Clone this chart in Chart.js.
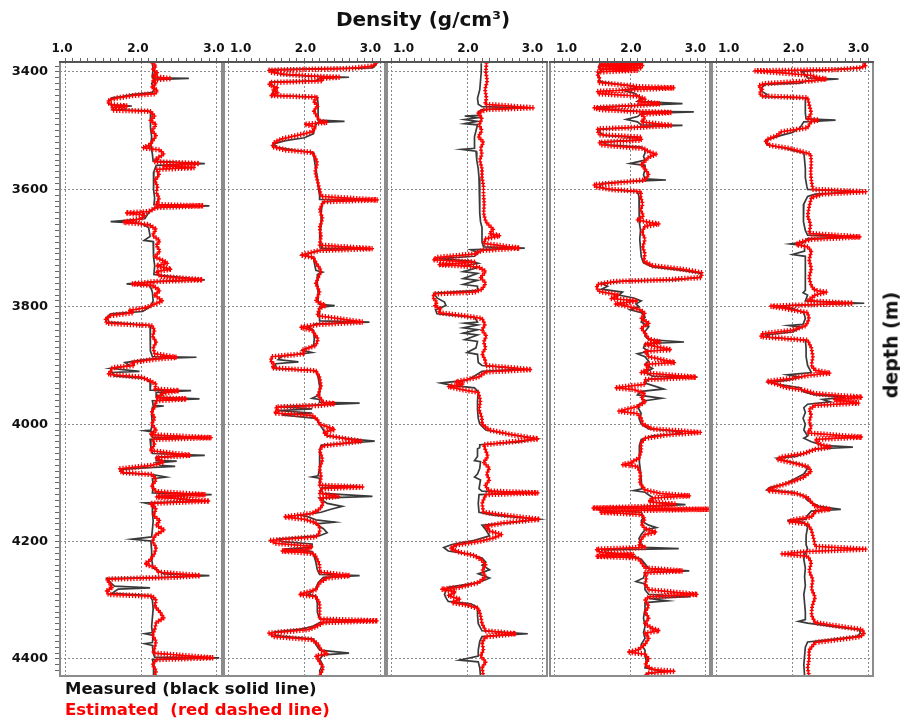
<!DOCTYPE html>
<html><head><meta charset="utf-8">
<script src="https://cdn.jsdelivr.net/npm/chart.js@4.4.1/dist/chart.umd.min.js"></script>
<style>
html,body{margin:0;padding:0;background:#fff;}
#wrap{position:relative;width:900px;height:728px;overflow:hidden;font-family:"DejaVu Sans",sans-serif;font-weight:bold;}
canvas{position:absolute;left:0;top:0;}
.t{position:absolute;white-space:pre;line-height:1;}
</style></head><body>
<div id="wrap">
<canvas id="c0" width="900" height="728"></canvas>
<canvas id="c1" width="900" height="728"></canvas>
<canvas id="c2" width="900" height="728"></canvas>
<canvas id="c3" width="900" height="728"></canvas>
<canvas id="c4" width="900" height="728"></canvas>
<div class="t" id="title" style="left:423px;top:9px;font-size:20px;color:#111;transform:translateX(-50%);">Density (g/cm³)</div>
<div class="t" id="ylab" style="left:891px;top:345px;font-size:19px;color:#111;transform:translate(-50%,-50%) rotate(-90deg);">depth (m)</div>
<div class="t" style="left:65px;top:681px;font-size:16.5px;color:#111;">Measured (black solid line)</div>
<div class="t" style="left:65px;top:702px;font-size:16.5px;color:#f00;">Estimated  (red dashed line)</div>
</div>
<script>
// ---- tick labels ----
const xTickLabels = ['1.0','2.0','3.0'];
const depthTickLabels = ['3400','3600','3800','4000','4200','4400'];
const densityMin = 0.934, densityMax = 3.066;
const depthMin = 3383, depthMax = 4429;

// ---- well 1 ----
const well1Measured = [[3385,2.15],[3395,2.16],[3405,2.15],[3410,2.15],[3411,2.63],[3413,2.17],[3420,2.14],[3428,2.18],[3435,2.15],[3438,1.9],[3442,1.75],[3444,1.62],[3448,1.58],[3452,1.57],[3456,1.6],[3458,1.88],[3460,1.65],[3464,1.62],[3466,2.1],[3470,2.13],[3480,2.12],[3495,2.13],[3510,2.14],[3525,2.13],[3540,2.15],[3552,2.16],[3556,2.84],[3559,2.2],[3570,2.17],[3585,2.16],[3600,2.17],[3615,2.18],[3626,2.17],[3628,2.9],[3631,2.18],[3640,2.1],[3650,2.05],[3655,1.6],[3658,2.0],[3665,2.1],[3680,2.12],[3687,2.04],[3689,2.16],[3700,2.17],[3715,2.16],[3730,2.18],[3745,2.17],[3754,2.84],[3757,2.2],[3761,1.81],[3764,2.12],[3775,2.15],[3790,2.16],[3800,2.12],[3808,2.02],[3812,1.6],[3818,1.55],[3826,1.58],[3832,2.12],[3845,2.13],[3860,2.12],[3875,2.12],[3885,2.15],[3886,2.73],[3889,2.1],[3895,1.79],[3900,1.85],[3905,1.6],[3910,1.98],[3912,1.62],[3918,1.65],[3922,2.05],[3930,2.13],[3942,2.12],[3943,2.66],[3946,2.2],[3954,2.2],[3957,2.77],[3960,2.15],[3968,2.16],[3969,2.3],[3971,2.15],[3985,2.14],[4000,2.15],[4010,2.13],[4011,2.05],[4013,2.15],[4022,2.15],[4023,2.9],[4026,2.12],[4040,2.13],[4050,2.15],[4053,2.84],[4056,2.2],[4062,2.2],[4063,2.47],[4066,2.2],[4070,2.25],[4072,2.45],[4074,2.1],[4077,1.74],[4083,1.76],[4086,2.15],[4090,2.33],[4093,2.15],[4105,2.16],[4117,2.15],[4120,2.93],[4123,2.2],[4131,2.8],[4134,2.05],[4137,2.15],[4150,2.15],[4165,2.16],[4180,2.15],[4192,2.14],[4196,1.88],[4199,2.13],[4215,2.14],[4230,2.14],[4245,2.16],[4255,2.3],[4258,2.9],[4261,2.3],[4263,1.55],[4270,1.6],[4276,1.65],[4279,2.12],[4281,1.7],[4288,1.62],[4292,2.12],[4300,2.15],[4315,2.16],[4330,2.15],[4345,2.14],[4355,2.15],[4357,2.05],[4360,2.16],[4372,2.15],[4374,2.05],[4377,2.15],[4390,2.16],[4397,2.18],[4398,3.03],[4401,2.15],[4410,2.17],[4420,2.16],[4429,2.17]];
const well1Estimated = [[3385,2.15],[3390,2.2],[3396,2.15],[3402,2.22],[3408,2.15],[3411,2.38],[3414,2.15],[3420,2.2],[3426,2.14],[3432,2.22],[3437,2.18],[3440,1.9],[3444,1.7],[3448,1.58],[3452,1.56],[3456,1.62],[3458,1.82],[3461,1.62],[3465,1.64],[3467,2.12],[3475,2.18],[3482,2.12],[3490,2.2],[3500,2.14],[3508,2.2],[3516,2.16],[3524,2.12],[3529,2.03],[3533,2.25],[3540,2.3],[3548,2.2],[3553,2.18],[3556,2.77],[3560,2.3],[3563,2.7],[3566,2.2],[3575,2.24],[3585,2.18],[3595,2.22],[3605,2.2],[3615,2.24],[3626,2.2],[3628,2.82],[3631,2.2],[3638,2.1],[3640,1.8],[3644,2.05],[3650,2.0],[3656,1.77],[3660,2.1],[3668,2.2],[3678,2.15],[3688,2.25],[3695,2.2],[3705,2.25],[3715,2.18],[3722,2.3],[3726,2.35],[3730,2.2],[3736,2.4],[3740,2.2],[3748,2.25],[3754,2.81],[3757,2.2],[3761,1.88],[3764,2.15],[3772,2.25],[3780,2.18],[3790,2.28],[3797,2.15],[3802,2.05],[3806,1.85],[3810,1.9],[3815,1.6],[3822,1.53],[3828,1.55],[3832,2.14],[3840,2.18],[3850,2.15],[3860,2.2],[3870,2.16],[3880,2.18],[3886,2.47],[3889,2.2],[3895,1.88],[3900,1.9],[3904,1.62],[3910,1.6],[3915,1.57],[3920,2.0],[3926,2.12],[3932,2.2],[3940,2.18],[3943,2.5],[3947,2.3],[3955,2.2],[3957,2.6],[3960,2.2],[3970,2.18],[3980,2.14],[3990,2.18],[4000,2.14],[4010,2.2],[4018,2.12],[4023,2.93],[4026,2.15],[4035,2.18],[4045,2.12],[4053,2.65],[4057,2.2],[4065,2.3],[4070,2.15],[4076,1.72],[4082,1.74],[4086,2.15],[4095,2.2],[4105,2.14],[4115,2.2],[4120,2.85],[4124,2.2],[4131,2.9],[4135,2.12],[4145,2.2],[4155,2.16],[4165,2.25],[4172,2.2],[4180,2.3],[4190,2.18],[4200,2.15],[4210,2.2],[4220,2.18],[4232,2.12],[4238,2.05],[4245,2.2],[4252,2.22],[4258,2.78],[4261,2.4],[4264,1.55],[4270,1.58],[4278,1.62],[4284,1.55],[4290,1.57],[4293,2.15],[4300,2.2],[4310,2.18],[4320,2.25],[4330,2.3],[4338,2.2],[4350,2.18],[4360,2.15],[4370,2.2],[4380,2.18],[4390,2.16],[4398,2.95],[4401,2.2],[4410,2.15],[4420,2.2],[4429,2.18]];

// ---- well 2 ----
const well2Measured = [[3385,2.95],[3390,2.93],[3393,2.9],[3396,1.55],[3400,1.6],[3404,1.7],[3407,2.05],[3409,2.59],[3411,2.2],[3415,2.15],[3417,1.55],[3422,1.57],[3428,1.62],[3434,1.58],[3440,1.6],[3443,2.17],[3455,2.18],[3470,2.18],[3482,2.18],[3484,2.53],[3486,2.17],[3495,2.13],[3505,2.12],[3512,2.0],[3517,1.75],[3522,1.6],[3528,1.62],[3534,1.9],[3537,2.12],[3550,2.13],[3565,2.15],[3580,2.17],[3595,2.18],[3610,2.2],[3617,2.2],[3618,2.92],[3621,2.24],[3640,2.22],[3660,2.22],[3680,2.2],[3695,2.22],[3700,2.22],[3701,2.88],[3704,2.2],[3712,1.97],[3716,2.12],[3725,2.13],[3738,2.15],[3741,2.24],[3745,2.17],[3760,2.17],[3775,2.18],[3790,2.18],[3796,2.2],[3798,2.4],[3801,2.2],[3812,2.2],[3824,2.2],[3826,2.86],[3829,2.15],[3835,2.05],[3840,2.12],[3855,2.13],[3866,2.12],[3874,1.97],[3878,2.1],[3884,1.7],[3890,1.65],[3894,1.92],[3897,1.62],[3905,1.6],[3909,2.15],[3920,2.18],[3935,2.2],[3950,2.2],[3956,2.1],[3958,2.2],[3963,2.2],[3964,2.73],[3967,2.2],[3970,1.66],[3974,2.1],[3977,1.65],[3981,2.1],[3984,1.7],[3990,2.15],[4000,2.2],[4010,2.25],[4020,2.3],[4025,2.6],[4029,2.93],[4032,2.6],[4036,2.22],[4045,2.2],[4060,2.2],[4075,2.2],[4088,2.18],[4090,2.1],[4092,2.2],[4104,2.2],[4106,2.7],[4109,2.22],[4118,2.24],[4123,2.9],[4126,2.2],[4135,2.3],[4140,2.5],[4145,2.35],[4150,2.22],[4155,1.95],[4158,2.05],[4163,2.15],[4167,2.4],[4170,2.15],[4178,2.25],[4185,2.3],[4190,2.2],[4196,1.65],[4200,1.7],[4204,2.1],[4210,2.1],[4213,1.72],[4217,2.1],[4222,2.12],[4235,2.15],[4248,2.17],[4256,2.2],[4258,2.73],[4261,2.25],[4270,2.18],[4280,2.15],[4290,2.05],[4293,2.15],[4305,2.17],[4320,2.17],[4332,2.2],[4335,2.95],[4338,2.2],[4345,2.1],[4349,1.95],[4354,1.6],[4360,1.62],[4366,2.12],[4375,2.15],[4385,2.2],[4390,2.59],[4393,2.25],[4400,2.2],[4410,2.24],[4420,2.2],[4429,2.22]];
const well2Estimated = [[3385,2.95],[3390,2.9],[3394,2.6],[3397,1.53],[3401,1.57],[3404,1.75],[3407,2.1],[3409,2.46],[3411,2.2],[3415,2.24],[3418,1.55],[3422,1.53],[3427,1.65],[3431,1.58],[3436,1.65],[3440,1.55],[3443,2.17],[3450,2.12],[3458,2.18],[3466,2.12],[3474,2.16],[3484,2.2],[3486,2.3],[3489,2.0],[3494,2.15],[3502,2.1],[3510,1.84],[3514,1.7],[3520,1.6],[3527,1.57],[3533,1.75],[3537,2.1],[3545,2.14],[3555,2.17],[3570,2.14],[3585,2.17],[3600,2.2],[3612,2.22],[3618,2.97],[3621,2.25],[3635,2.2],[3650,2.24],[3665,2.2],[3680,2.22],[3695,2.2],[3701,2.9],[3704,2.2],[3712,1.95],[3716,2.12],[3725,2.15],[3738,2.22],[3745,2.2],[3760,2.15],[3775,2.2],[3790,2.15],[3798,2.28],[3802,2.2],[3815,2.17],[3826,2.77],[3830,2.2],[3835,1.95],[3840,2.1],[3855,2.18],[3866,2.15],[3874,1.97],[3880,2.0],[3885,1.57],[3892,1.55],[3898,1.6],[3904,1.57],[3909,2.15],[3920,2.2],[3935,2.22],[3950,2.18],[3963,2.25],[3965,2.4],[3968,2.2],[3971,1.62],[3976,1.65],[3981,1.6],[3985,2.1],[3992,2.17],[4000,2.2],[4009,2.4],[4014,2.25],[4019,2.3],[4025,2.55],[4029,2.75],[4033,2.5],[4037,2.24],[4045,2.2],[4060,2.24],[4075,2.2],[4090,2.22],[4104,2.2],[4107,2.77],[4110,2.22],[4118,2.2],[4123,2.45],[4126,2.2],[4135,2.25],[4145,2.2],[4152,2.1],[4158,1.73],[4162,2.0],[4168,2.15],[4175,2.2],[4185,2.2],[4192,2.15],[4198,1.55],[4203,1.62],[4208,2.1],[4213,2.05],[4216,1.7],[4220,2.1],[4225,2.15],[4240,2.2],[4252,2.2],[4258,2.6],[4262,2.3],[4270,2.2],[4282,2.15],[4290,1.93],[4294,2.15],[4305,2.2],[4320,2.2],[4332,2.2],[4335,2.97],[4338,2.25],[4345,2.15],[4350,2.05],[4356,1.53],[4362,1.6],[4367,2.1],[4375,2.18],[4385,2.22],[4391,2.3],[4395,2.15],[4405,2.2],[4415,2.25],[4429,2.2]];

// ---- well 3 ----
const well3Measured = [[3385,2.19],[3400,2.19],[3415,2.18],[3430,2.17],[3445,2.14],[3455,2.15],[3459,2.2],[3461,2.77],[3464,2.2],[3468,2.15],[3474,2.15],[3475,1.97],[3478,2.14],[3481,1.97],[3484,2.14],[3488,1.97],[3490,2.14],[3500,2.12],[3510,2.1],[3520,2.1],[3530,2.1],[3532,1.93],[3535,2.12],[3550,2.13],[3565,2.15],[3580,2.16],[3595,2.17],[3610,2.17],[3625,2.17],[3640,2.17],[3655,2.18],[3665,2.2],[3680,2.2],[3690,2.2],[3698,2.22],[3700,2.77],[3703,2.05],[3708,2.15],[3714,2.1],[3718,1.62],[3722,2.05],[3726,2.15],[3730,1.97],[3733,2.14],[3740,1.95],[3743,2.14],[3752,1.95],[3755,2.14],[3762,1.95],[3765,2.14],[3772,2.14],[3777,1.56],[3785,1.6],[3792,1.7],[3798,1.72],[3805,1.58],[3812,1.6],[3818,2.1],[3826,2.14],[3828,1.97],[3831,2.14],[3836,1.95],[3839,2.14],[3845,1.95],[3848,2.14],[3856,1.97],[3859,2.14],[3870,2.12],[3878,2.0],[3881,2.14],[3895,2.15],[3900,2.2],[3906,2.75],[3910,2.2],[3918,2.1],[3925,2.0],[3930,1.65],[3934,1.8],[3938,2.1],[3945,2.15],[3960,2.14],[3975,2.14],[3990,2.15],[4000,2.17],[4010,2.25],[4018,2.6],[4025,2.93],[4030,2.7],[4035,2.17],[4040,2.17],[4042,2.14],[4055,2.14],[4062,2.1],[4064,2.18],[4075,2.17],[4085,2.14],[4090,2.1],[4095,2.18],[4110,2.16],[4114,2.2],[4117,2.93],[4120,2.16],[4135,2.15],[4150,2.16],[4155,2.35],[4162,2.95],[4168,2.55],[4172,2.2],[4180,2.25],[4190,2.3],[4198,2.1],[4205,1.8],[4210,1.69],[4216,1.75],[4222,2.05],[4228,2.2],[4235,2.25],[4240,2.2],[4248,2.3],[4255,2.15],[4262,2.3],[4270,2.15],[4278,1.75],[4284,1.72],[4290,1.7],[4296,1.72],[4302,1.75],[4306,2.05],[4312,2.14],[4325,2.14],[4340,2.15],[4352,2.2],[4357,2.81],[4362,2.2],[4370,2.17],[4385,2.15],[4395,2.15],[4402,1.9],[4405,2.15],[4415,2.17],[4429,2.18]];
const well3Estimated = [[3385,2.26],[3400,2.25],[3415,2.27],[3430,2.24],[3445,2.26],[3455,2.24],[3461,2.88],[3464,2.25],[3470,2.15],[3480,2.2],[3490,2.16],[3500,2.2],[3510,2.15],[3520,2.22],[3530,2.18],[3540,2.2],[3550,2.17],[3565,2.2],[3580,2.2],[3595,2.22],[3610,2.22],[3625,2.23],[3640,2.22],[3655,2.25],[3662,2.3],[3668,2.35],[3675,2.3],[3679,2.44],[3684,2.25],[3692,2.22],[3700,2.7],[3704,2.2],[3710,2.1],[3716,1.6],[3720,1.55],[3724,2.1],[3728,1.62],[3732,2.15],[3740,2.25],[3750,2.18],[3760,2.25],[3770,2.2],[3775,2.1],[3778,1.56],[3785,1.55],[3792,1.6],[3798,1.57],[3804,1.65],[3810,1.62],[3816,2.0],[3820,2.2],[3830,2.24],[3840,2.2],[3850,2.26],[3860,2.22],[3870,2.25],[3880,2.2],[3890,2.24],[3900,2.25],[3907,2.86],[3911,2.25],[3920,2.15],[3928,1.85],[3932,1.95],[3936,1.75],[3941,1.93],[3946,2.15],[3960,2.18],[3975,2.16],[3990,2.2],[4000,2.2],[4010,2.3],[4018,2.6],[4025,2.95],[4030,2.6],[4035,2.22],[4045,2.25],[4055,2.28],[4065,2.22],[4075,2.3],[4085,2.26],[4095,2.3],[4105,2.24],[4114,2.3],[4117,2.95],[4120,2.25],[4135,2.2],[4150,2.22],[4155,2.5],[4162,2.97],[4168,2.5],[4174,2.25],[4182,2.3],[4188,2.46],[4194,2.35],[4200,2.15],[4206,1.85],[4212,1.78],[4218,1.9],[4224,2.1],[4232,2.2],[4240,2.25],[4250,2.2],[4260,2.25],[4270,2.15],[4278,1.9],[4281,1.66],[4286,1.85],[4292,1.75],[4298,1.9],[4304,1.8],[4308,2.0],[4314,2.15],[4325,2.18],[4340,2.2],[4352,2.25],[4357,2.65],[4362,2.25],[4372,2.2],[4385,2.22],[4395,2.18],[4405,2.25],[4415,2.2],[4429,2.22]];

// ---- well 4 ----
const well4Measured = [[3385,1.6],[3392,1.58],[3398,1.62],[3404,1.57],[3410,1.6],[3416,1.58],[3420,1.8],[3424,2.05],[3427,2.1],[3431,1.9],[3436,2.05],[3440,2.1],[3446,2.15],[3450,2.1],[3454,2.7],[3457,2.1],[3460,1.55],[3464,1.75],[3467,2.1],[3468,2.85],[3471,2.15],[3476,2.1],[3481,1.95],[3485,2.1],[3490,2.15],[3491,2.7],[3494,2.1],[3498,1.6],[3503,1.6],[3508,1.65],[3512,2.1],[3516,2.1],[3519,1.62],[3524,1.7],[3528,2.15],[3533,2.2],[3538,2.2],[3544,2.18],[3550,2.2],[3556,2.0],[3559,2.2],[3566,2.2],[3575,2.18],[3582,2.2],[3584,2.48],[3587,1.9],[3590,1.62],[3596,1.6],[3600,1.7],[3604,2.1],[3612,2.12],[3625,2.13],[3640,2.12],[3655,2.12],[3670,2.14],[3685,2.13],[3700,2.14],[3715,2.15],[3725,2.18],[3732,2.3],[3738,2.7],[3743,2.95],[3750,2.93],[3754,2.6],[3756,1.95],[3760,1.62],[3765,1.7],[3770,1.62],[3775,1.9],[3780,1.85],[3785,2.05],[3790,2.15],[3795,2.08],[3800,2.12],[3805,2.0],[3810,2.15],[3818,2.2],[3826,2.15],[3834,2.25],[3842,2.2],[3850,2.2],[3856,2.25],[3860,2.72],[3863,2.2],[3870,2.18],[3876,2.25],[3880,2.1],[3885,2.2],[3893,2.25],[3898,2.2],[3905,2.3],[3912,2.2],[3918,2.3],[3920,2.9],[3923,2.25],[3930,2.2],[3936,2.35],[3940,2.45],[3944,2.15],[3950,2.1],[3956,2.42],[3960,2.2],[3968,2.1],[3975,2.12],[3982,2.15],[3990,2.12],[4000,2.15],[4008,2.25],[4012,2.6],[4016,2.7],[4020,2.3],[4026,2.15],[4035,2.13],[4050,2.12],[4065,2.13],[4080,2.14],[4095,2.15],[4110,2.16],[4113,2.05],[4116,2.2],[4125,2.3],[4133,2.3],[4137,2.74],[4140,2.2],[4143,1.55],[4147,1.6],[4150,2.15],[4158,2.18],[4165,2.15],[4172,2.25],[4176,2.35],[4180,2.2],[4188,2.15],[4195,2.12],[4205,2.15],[4210,2.2],[4212,2.65],[4214,1.65],[4220,1.7],[4225,2.05],[4230,2.15],[4238,2.2],[4246,2.25],[4250,2.79],[4253,2.2],[4262,2.18],[4268,2.08],[4272,2.2],[4282,2.2],[4290,2.25],[4294,2.8],[4297,2.25],[4301,2.5],[4304,2.2],[4315,2.2],[4330,2.18],[4345,2.2],[4355,2.18],[4365,2.2],[4375,2.15],[4385,2.2],[4395,2.2],[4405,2.22],[4415,2.2],[4421,2.45],[4425,2.22],[4429,2.2]];
const well4Estimated = [[3385,2.15],[3387,1.6],[3389,2.17],[3391,1.58],[3393,2.16],[3395,1.6],[3397,2.1],[3400,1.57],[3406,1.57],[3412,1.6],[3418,1.58],[3422,1.9],[3425,2.1],[3427,2.59],[3430,2.1],[3433,1.57],[3437,1.58],[3441,2.1],[3446,2.2],[3450,2.1],[3454,2.4],[3457,2.1],[3461,1.52],[3464,1.6],[3467,2.05],[3469,2.55],[3472,2.15],[3478,2.2],[3485,2.15],[3491,2.55],[3494,2.15],[3497,1.57],[3502,1.57],[3507,1.6],[3511,2.15],[3516,2.15],[3520,1.59],[3524,1.62],[3527,1.85],[3530,2.18],[3536,2.25],[3540,2.35],[3545,2.25],[3552,2.2],[3558,2.15],[3565,2.2],[3575,2.25],[3584,2.2],[3588,1.9],[3592,1.52],[3596,1.55],[3600,1.75],[3604,2.15],[3612,2.14],[3625,2.17],[3635,2.14],[3645,2.18],[3652,2.1],[3656,2.25],[3659,2.39],[3663,2.2],[3672,2.16],[3685,2.2],[3698,2.17],[3710,2.2],[3722,2.18],[3730,2.3],[3736,2.7],[3742,2.96],[3750,2.95],[3754,2.5],[3757,1.8],[3762,1.57],[3768,1.55],[3774,1.6],[3780,1.85],[3786,1.75],[3790,2.1],[3795,1.8],[3800,2.0],[3806,2.15],[3812,2.2],[3820,2.15],[3828,2.25],[3836,2.15],[3845,2.2],[3855,2.25],[3860,2.4],[3864,2.2],[3873,2.55],[3876,2.2],[3885,2.25],[3895,2.6],[3898,2.2],[3905,2.25],[3912,2.15],[3920,2.88],[3924,2.2],[3932,2.2],[3938,1.8],[3941,2.05],[3948,2.2],[3955,2.15],[3962,2.2],[3970,2.1],[3978,1.85],[3982,2.1],[3990,2.15],[4000,2.17],[4008,2.3],[4014,2.94],[4018,2.5],[4024,2.2],[4032,2.15],[4045,2.15],[4058,2.12],[4066,2.0],[4069,1.9],[4072,2.1],[4085,2.14],[4100,2.13],[4112,2.2],[4118,2.4],[4122,2.8],[4126,2.3],[4132,2.25],[4136,2.6],[4140,2.25],[4143,1.5],[4145,3.05],[4147,2.15],[4150,1.6],[4154,2.15],[4162,2.2],[4170,2.15],[4178,2.2],[4184,2.35],[4188,2.2],[4196,2.15],[4205,2.12],[4210,2.2],[4213,1.55],[4218,1.6],[4222,2.05],[4225,1.55],[4228,2.1],[4235,2.15],[4245,2.2],[4250,2.7],[4253,2.2],[4262,2.22],[4272,2.2],[4282,2.25],[4290,2.9],[4294,2.25],[4300,2.2],[4310,2.25],[4320,2.2],[4330,2.25],[4340,2.2],[4348,2.3],[4352,2.39],[4356,2.2],[4365,2.25],[4375,2.2],[4385,2.1],[4388,1.97],[4392,2.2],[4400,2.25],[4410,2.2],[4418,2.3],[4421,2.6],[4424,2.25],[4429,2.2]];

// ---- well 5 ----
const well5Measured = [[3385,2.95],[3389,2.96],[3393,2.9],[3396,2.5],[3399,2.12],[3405,2.17],[3410,2.2],[3412,2.61],[3415,2.2],[3419,2.1],[3421,1.64],[3426,1.6],[3432,1.58],[3438,1.66],[3442,1.62],[3444,2.17],[3455,2.17],[3470,2.17],[3480,2.18],[3482,2.57],[3485,2.15],[3495,2.1],[3503,2.0],[3508,1.85],[3514,1.7],[3518,1.64],[3524,1.66],[3530,1.9],[3534,2.02],[3538,2.15],[3550,2.16],[3565,2.17],[3580,2.17],[3595,2.19],[3600,2.2],[3604,2.88],[3608,2.3],[3612,2.2],[3625,2.15],[3640,2.14],[3655,2.15],[3670,2.17],[3678,2.2],[3681,2.88],[3684,2.2],[3690,2.15],[3693,1.97],[3696,2.16],[3705,2.16],[3711,2.0],[3714,2.17],[3725,2.17],[3740,2.17],[3755,2.17],[3765,2.17],[3772,2.17],[3776,2.14],[3780,2.2],[3790,2.17],[3794,2.95],[3797,2.1],[3799,1.8],[3803,2.0],[3810,2.15],[3820,2.17],[3830,2.14],[3832,1.95],[3835,2.12],[3843,2.0],[3848,1.64],[3852,1.7],[3857,2.17],[3870,2.18],[3885,2.18],[3900,2.2],[3912,2.25],[3916,1.93],[3920,2.1],[3925,1.95],[3929,1.7],[3933,1.85],[3938,2.1],[3945,2.15],[3950,2.3],[3954,2.7],[3958,2.4],[3962,2.5],[3966,2.2],[3972,2.15],[3980,2.17],[3990,2.14],[4000,2.17],[4010,2.15],[4020,2.2],[4024,2.15],[4030,2.25],[4036,2.4],[4039,2.8],[4042,2.3],[4050,2.15],[4055,2.05],[4058,1.8],[4062,1.9],[4068,2.1],[4075,2.2],[4085,2.15],[4095,2.0],[4102,1.9],[4108,1.7],[4112,1.66],[4116,2.0],[4122,2.15],[4130,2.2],[4140,2.35],[4145,2.64],[4148,2.25],[4155,2.2],[4162,2.18],[4164,1.93],[4167,2.15],[4175,2.2],[4190,2.18],[4205,2.18],[4213,2.2],[4218,2.17],[4230,2.15],[4245,2.17],[4260,2.16],[4275,2.17],[4290,2.15],[4305,2.16],[4320,2.17],[4333,2.17],[4336,2.08],[4339,2.2],[4344,2.5],[4350,2.88],[4356,2.9],[4362,2.85],[4367,2.5],[4371,2.2],[4380,2.17],[4395,2.16],[4410,2.15],[4429,2.16]];
const well5Estimated = [[3385,2.95],[3389,2.97],[3393,2.9],[3396,2.6],[3398,1.5],[3402,1.9],[3406,2.25],[3410,2.35],[3412,2.45],[3415,2.25],[3420,1.62],[3424,1.55],[3430,1.6],[3436,1.56],[3441,1.6],[3444,2.2],[3455,2.22],[3470,2.25],[3480,2.2],[3482,2.35],[3485,2.24],[3495,2.2],[3502,1.85],[3508,1.8],[3514,1.68],[3519,1.64],[3525,1.7],[3530,1.95],[3535,2.1],[3540,2.24],[3555,2.25],[3570,2.24],[3585,2.25],[3600,2.27],[3604,2.97],[3608,2.4],[3614,2.25],[3630,2.22],[3645,2.2],[3660,2.24],[3675,2.22],[3681,2.9],[3685,2.25],[3690,2.1],[3694,2.05],[3698,2.2],[3705,2.25],[3720,2.22],[3735,2.25],[3750,2.22],[3765,2.25],[3772,2.3],[3775,2.45],[3780,2.3],[3790,2.2],[3794,2.8],[3797,2.15],[3799,1.71],[3803,1.9],[3810,2.2],[3820,2.22],[3832,2.18],[3840,2.0],[3846,1.6],[3851,1.58],[3857,2.2],[3870,2.25],[3885,2.27],[3900,2.25],[3908,2.3],[3913,2.5],[3917,2.2],[3922,2.0],[3927,1.66],[3932,1.8],[3937,1.9],[3942,2.15],[3948,2.3],[3954,2.92],[3958,2.55],[3964,2.88],[3968,2.3],[3975,2.22],[3985,2.25],[3995,2.22],[4005,2.25],[4015,2.2],[4022,2.92],[4026,2.3],[4034,2.35],[4039,2.5],[4043,2.3],[4050,2.15],[4056,1.85],[4060,1.8],[4066,2.0],[4072,2.2],[4080,2.25],[4090,2.15],[4098,2.0],[4104,1.85],[4110,1.7],[4113,1.67],[4118,2.05],[4125,2.2],[4133,2.25],[4140,2.3],[4145,2.5],[4149,2.3],[4158,2.25],[4163,2.0],[4166,1.95],[4170,2.2],[4180,2.25],[4195,2.28],[4208,2.3],[4213,2.97],[4217,2.2],[4221,1.86],[4225,2.2],[4235,2.25],[4250,2.22],[4265,2.27],[4280,2.25],[4295,2.3],[4310,2.26],[4325,2.25],[4338,2.3],[4344,2.6],[4350,2.92],[4356,2.95],[4362,2.9],[4367,2.6],[4372,2.3],[4385,2.22],[4400,2.22],[4415,2.2],[4429,2.22]];

const wells = [
  [well1Measured, well1Estimated],
  [well2Measured, well2Estimated],
  [well3Measured, well3Estimated],
  [well4Measured, well4Estimated],
  [well5Measured, well5Estimated]
];

// ---- layout (pixels) ----
const panelLeft  = [60, 224, 387, 550, 712];
const panelRight = [222, 385, 547, 710, 873];
const areaTop = 62, areaBottom = 676;
const FONT = '"DejaVu Sans", sans-serif';

// tick positions
const xTickValues = [];
for (let k = 0; k <= 20; k++) xTickValues.push(1 + k / 10);
const yTickValues = [];
for (let d = 3390; d <= 4420; d += 10) yTickValues.push(d);

const crossPlugin = {
  id: 'crossMarks',
  afterDatasetDraw(chart, args) {
    const ds = chart.data.datasets[args.index];
    if (!ds.crossMarks) return;
    const pts = args.meta.data;
    const ctx = chart.ctx, a = chart.chartArea;
    ctx.save();
    ctx.beginPath();
    ctx.rect(a.left, a.top, a.right - a.left, a.bottom - a.top);
    ctx.clip();
    ctx.strokeStyle = ds.borderColor;
    ctx.lineWidth = 1.3;
    ctx.beginPath();
    const step = 3.1, armX = 2.0, armY = 2.7;
    let carry = 0;
    for (let i = 1; i < pts.length; i++) {
      const x0 = pts[i-1].x, y0 = pts[i-1].y, x1 = pts[i].x, y1 = pts[i].y;
      const len = Math.hypot(x1 - x0, y1 - y0);
      let t = carry;
      while (t <= len) {
        const f = len ? t / len : 0;
        const cx = x0 + (x1 - x0) * f, cy = y0 + (y1 - y0) * f;
        ctx.moveTo(cx - armX, cy); ctx.lineTo(cx + armX, cy);
        ctx.moveTo(cx, cy - armY); ctx.lineTo(cx, cy + armY);
        t += step;
      }
      carry = t - len;
    }
    ctx.stroke();
    ctx.restore();
  }
};

const framePlugin = {
  id: 'frame',
  afterDatasetsDraw(chart) {
    const a = chart.chartArea, ctx = chart.ctx;
    ctx.save();
    ctx.strokeStyle = '#8c8c8c';
    ctx.lineWidth = 2;
    ctx.strokeRect(a.left, a.top, a.right - a.left, a.bottom - a.top);
    ctx.strokeStyle = '#555';
    ctx.beginPath();
    ctx.moveTo(a.left - 1, a.top); ctx.lineTo(a.right + 1, a.top);
    ctx.stroke();
    ctx.restore();
  }
};

const isMajorX = v => Math.abs(v - Math.round(v)) < 1e-6;
const isMajorY = v => depthTickLabels.includes(String(v));

wells.forEach(([meas, est], i) => {
  new Chart(document.getElementById('c' + i), {
    type: 'line',
    data: {
      datasets: [
        { label: 'Estimated', data: est.map(([d, v]) => ({x: v, y: d})), borderColor: '#ff0000', borderWidth: 1, pointRadius: 0, tension: 0, crossMarks: true },
        { label: 'Measured', data: meas.map(([d, v]) => ({x: v, y: d})), borderColor: '#3a3a3a', borderWidth: 1.7, pointRadius: 0, tension: 0 }
      ]
    },
    options: {
      responsive: false, animation: false, events: [],
      indexAxis: 'y',
      layout: { padding: { left: i === 0 ? 0 : panelLeft[i], right: 900 - panelRight[i], top: 0, bottom: 728 - areaBottom } },
      plugins: { legend: { display: false }, tooltip: { enabled: false } },
      scales: {
        x: {
          type: 'linear', position: 'top', min: densityMin, max: densityMax,
          afterBuildTicks: ax => { ax.ticks = xTickValues.map(v => ({value: v})); },
          afterFit: ax => { ax.height = areaTop; },
          ticks: {
            autoSkip: false, maxRotation: 0, padding: 2, color: '#111',
            align: i === 0 ? 'center' : 'inner',
            labelOffset: i === 0 ? -3 : 1,
            font: { family: FONT, size: 12, weight: 'bold' },
            callback: v => { const s = Number(v).toFixed(1); return xTickLabels.includes(s) ? s : ''; }
          },
          grid: {
            color: c => (c.tick && isMajorX(c.tick.value)) ? '#8a8a8a' : 'rgba(0,0,0,0)',
            lineWidth: 1, tickColor: '#666', tickWidth: 1, tickLength: 4, drawTicks: true
          },
          border: { display: false, dash: [2, 2] }
        },
        y: {
          type: 'linear', position: 'left', reverse: true, min: depthMin, max: depthMax,
          afterBuildTicks: ax => { ax.ticks = yTickValues.map(v => ({value: v})); },
          afterFit: ax => { ax.width = i === 0 ? panelLeft[0] : 0; },
          ticks: {
            display: i === 0, autoSkip: false, padding: 7, color: '#111',
            font: { family: FONT, size: 13, weight: 'bold' },
            callback: v => isMajorY(v) ? String(v) : ''
          },
          grid: {
            color: c => (c.tick && isMajorY(c.tick.value)) ? '#8a8a8a' : 'rgba(0,0,0,0)',
            lineWidth: 1, tickColor: '#666', tickWidth: 1, tickLength: 5, drawTicks: i === 0
          },
          border: { display: false, dash: [2, 2] }
        }
      }
    },
    plugins: [crossPlugin, framePlugin]
  });
});
</script>
</body></html>
